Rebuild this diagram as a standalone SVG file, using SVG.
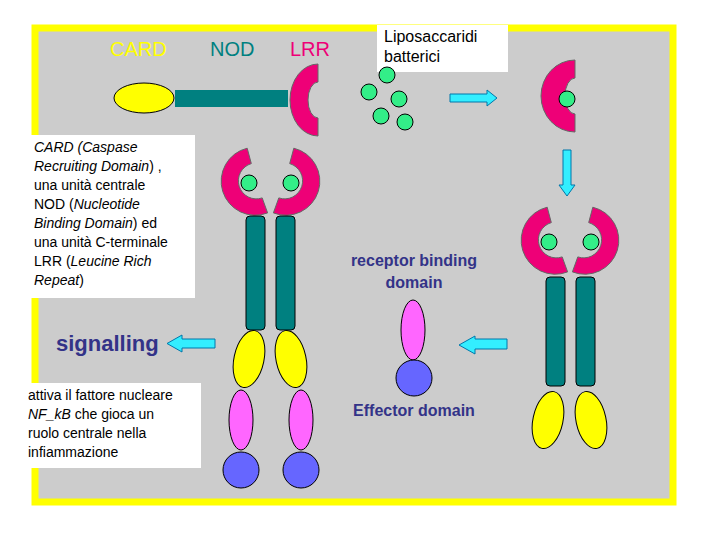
<svg xmlns="http://www.w3.org/2000/svg" width="720" height="540" viewBox="0 0 720 540">
<defs>
<style>
.c{fill:#ee0077;stroke:#666;stroke-width:1}
.g{fill:#33ee88;stroke:#000;stroke-width:1}
.b{fill:#008080;stroke:#000;stroke-width:1}
.y{fill:#ffff00;stroke:#000;stroke-width:1}
.p{fill:#ff66ff;stroke:#000;stroke-width:1}
.u{fill:#6666ff;stroke:#000;stroke-width:1}
.a{fill:#33eeff;stroke:#0077aa;stroke-width:1}
.t{font-family:"Liberation Sans",Arial,sans-serif;font-size:14px;fill:#000}
.n{font-family:"Liberation Sans",Arial,sans-serif;font-weight:bold;font-size:16px;fill:#333388;text-anchor:middle}
</style>
<path id="cr" d="M-8.8,-32.8 A34,34 0 1 0 11.6,31.9 L6.2,16.9 A18,18 0 1 1 -4.7,-17.4 Z"/>
</defs>
<rect x="0" y="0" width="720" height="540" fill="#fff"/>
<rect x="35" y="28" width="638" height="474" fill="#cccccc" stroke="#ffff00" stroke-width="7"/>
<g id="labels">
<text x="110" y="56" font-family="Liberation Sans,Arial,sans-serif" font-size="20" fill="#ffff00">CARD</text>
<text x="210" y="56" font-family="Liberation Sans,Arial,sans-serif" font-size="20" fill="#008080">NOD</text>
<text x="290" y="56" font-family="Liberation Sans,Arial,sans-serif" font-size="20" fill="#ee0077">LRR</text>
</g>
<g id="box-card">
<rect x="30" y="135" width="165" height="163" fill="#fff"/>
<text class="t"><tspan x="34" y="152" font-style="italic">CARD (Caspase</tspan><tspan x="34" y="171"><tspan font-style="italic">Recruiting Domain</tspan>)  ,</tspan><tspan x="34" y="190">una unità centrale</tspan><tspan x="34" y="209">NOD (<tspan font-style="italic">Nucleotide</tspan></tspan><tspan x="34" y="228"><tspan font-style="italic">Binding Domain</tspan>) ed</tspan><tspan x="34" y="247">una unità C-terminale</tspan><tspan x="34" y="266">LRR (<tspan font-style="italic">Leucine Rich</tspan></tspan><tspan x="34" y="285"><tspan font-style="italic">Repeat</tspan>)</tspan></text>
</g>
<g id="box-nf">
<rect x="25" y="383" width="176" height="85" fill="#fff"/>
<text class="t"><tspan x="28" y="400">attiva il fattore nucleare</tspan><tspan x="28" y="419"><tspan font-style="italic">NF_kB</tspan> che gioca un</tspan><tspan x="28" y="438">ruolo centrale nella</tspan><tspan x="28" y="457">infiammazione</tspan></text>
</g>
<g id="box-lipo">
<rect x="377" y="25" width="131" height="47" fill="#fff"/>
<text font-family="Liberation Sans,Arial,sans-serif" font-size="16" fill="#000"><tspan x="384" y="42">Liposaccaridi</tspan><tspan x="384" y="62">batterici</tspan></text>
</g>
<g id="signalling"><text x="56" y="351" font-family="Liberation Sans,Arial,sans-serif" font-weight="bold" font-size="22" fill="#333388">signalling</text></g>
<g id="rbd"><text class="n"><tspan x="414" y="266">receptor binding</tspan><tspan x="414" y="288">domain</tspan></text></g>
<g id="eff"><text class="n" x="414" y="416">Effector domain</text></g>
<g id="nod-linear">
<ellipse cx="144" cy="98" rx="30" ry="15" class="y"/>
<rect x="175" y="90" width="113" height="17" fill="#008080"/>
<path class="c" d="M318,64 A28,36 0 0 0 318,136 L318,118 A10,18 0 0 1 318,82 Z"/>
</g>
<g id="lps">
<circle cx="387" cy="75" r="8" class="g"/><circle cx="369" cy="92" r="8" class="g"/><circle cx="399" cy="99" r="8" class="g"/><circle cx="381" cy="116" r="8" class="g"/><circle cx="405" cy="122" r="8" class="g"/>
</g>
<g id="lrr-bound">
<path class="c" d="M575,60 A34,36 0 0 0 575,132 L575,114 A10,18 0 0 1 575,78 Z"/>
<circle cx="567" cy="99" r="8" class="g"/>
</g>
<g id="receptor-right">
<use href="#cr" class="c" transform="translate(556,240)"/>
<use href="#cr" class="c" transform="translate(584,240) scale(-1,1)"/>
<circle cx="549" cy="242" r="8" class="g"/><circle cx="591" cy="242" r="8" class="g"/>
<rect x="546" y="277" width="19" height="109" rx="4" class="b"/>
<rect x="576" y="277" width="19" height="109" rx="4" class="b"/>
<ellipse cx="548" cy="420" rx="15" ry="29" transform="rotate(12 548 420)" class="y"/>
<ellipse cx="591" cy="420" rx="15" ry="29" transform="rotate(-12 591 420)" class="y"/>
</g>
<g id="receptor-left">
<use href="#cr" class="c" transform="translate(256,181)"/>
<use href="#cr" class="c" transform="translate(285,181) scale(-1,1)"/>
<circle cx="249" cy="183" r="8" class="g"/><circle cx="291" cy="183" r="8" class="g"/>
<rect x="246" y="216" width="19" height="114" rx="4" class="b"/>
<rect x="276" y="216" width="19" height="114" rx="4" class="b"/>
<ellipse cx="249" cy="359" rx="15" ry="29" transform="rotate(12 249 359)" class="y"/>
<ellipse cx="291" cy="359" rx="15" ry="29" transform="rotate(-12 291 359)" class="y"/>
<ellipse cx="241" cy="420" rx="12" ry="30" class="p"/>
<ellipse cx="301" cy="420" rx="12" ry="30" class="p"/>
<circle cx="241" cy="470" r="18" class="u"/>
<circle cx="301" cy="470" r="18" class="u"/>
</g>
<g id="effector">
<ellipse cx="413" cy="330" rx="12" ry="30" class="p"/>
<circle cx="414" cy="378" r="18" class="u"/>
</g>
<g id="connectors">
<path class="a" d="M450,94 L487,94 L487,90 L497,98 L487,106 L487,102 L450,102 Z"/>
<path class="a" d="M563,150 L571,150 L571,185 L575,185 L567,196 L559,185 L563,185 Z"/>
<path class="a" d="M475,339 L507,339 L507,349 L475,349 L475,354 L459,345 L475,336 Z"/>
<path class="a" d="M182,339 L215,339 L215,348 L182,348 L182,352 L167,343.5 L182,335 Z"/>
</g>
</svg>
